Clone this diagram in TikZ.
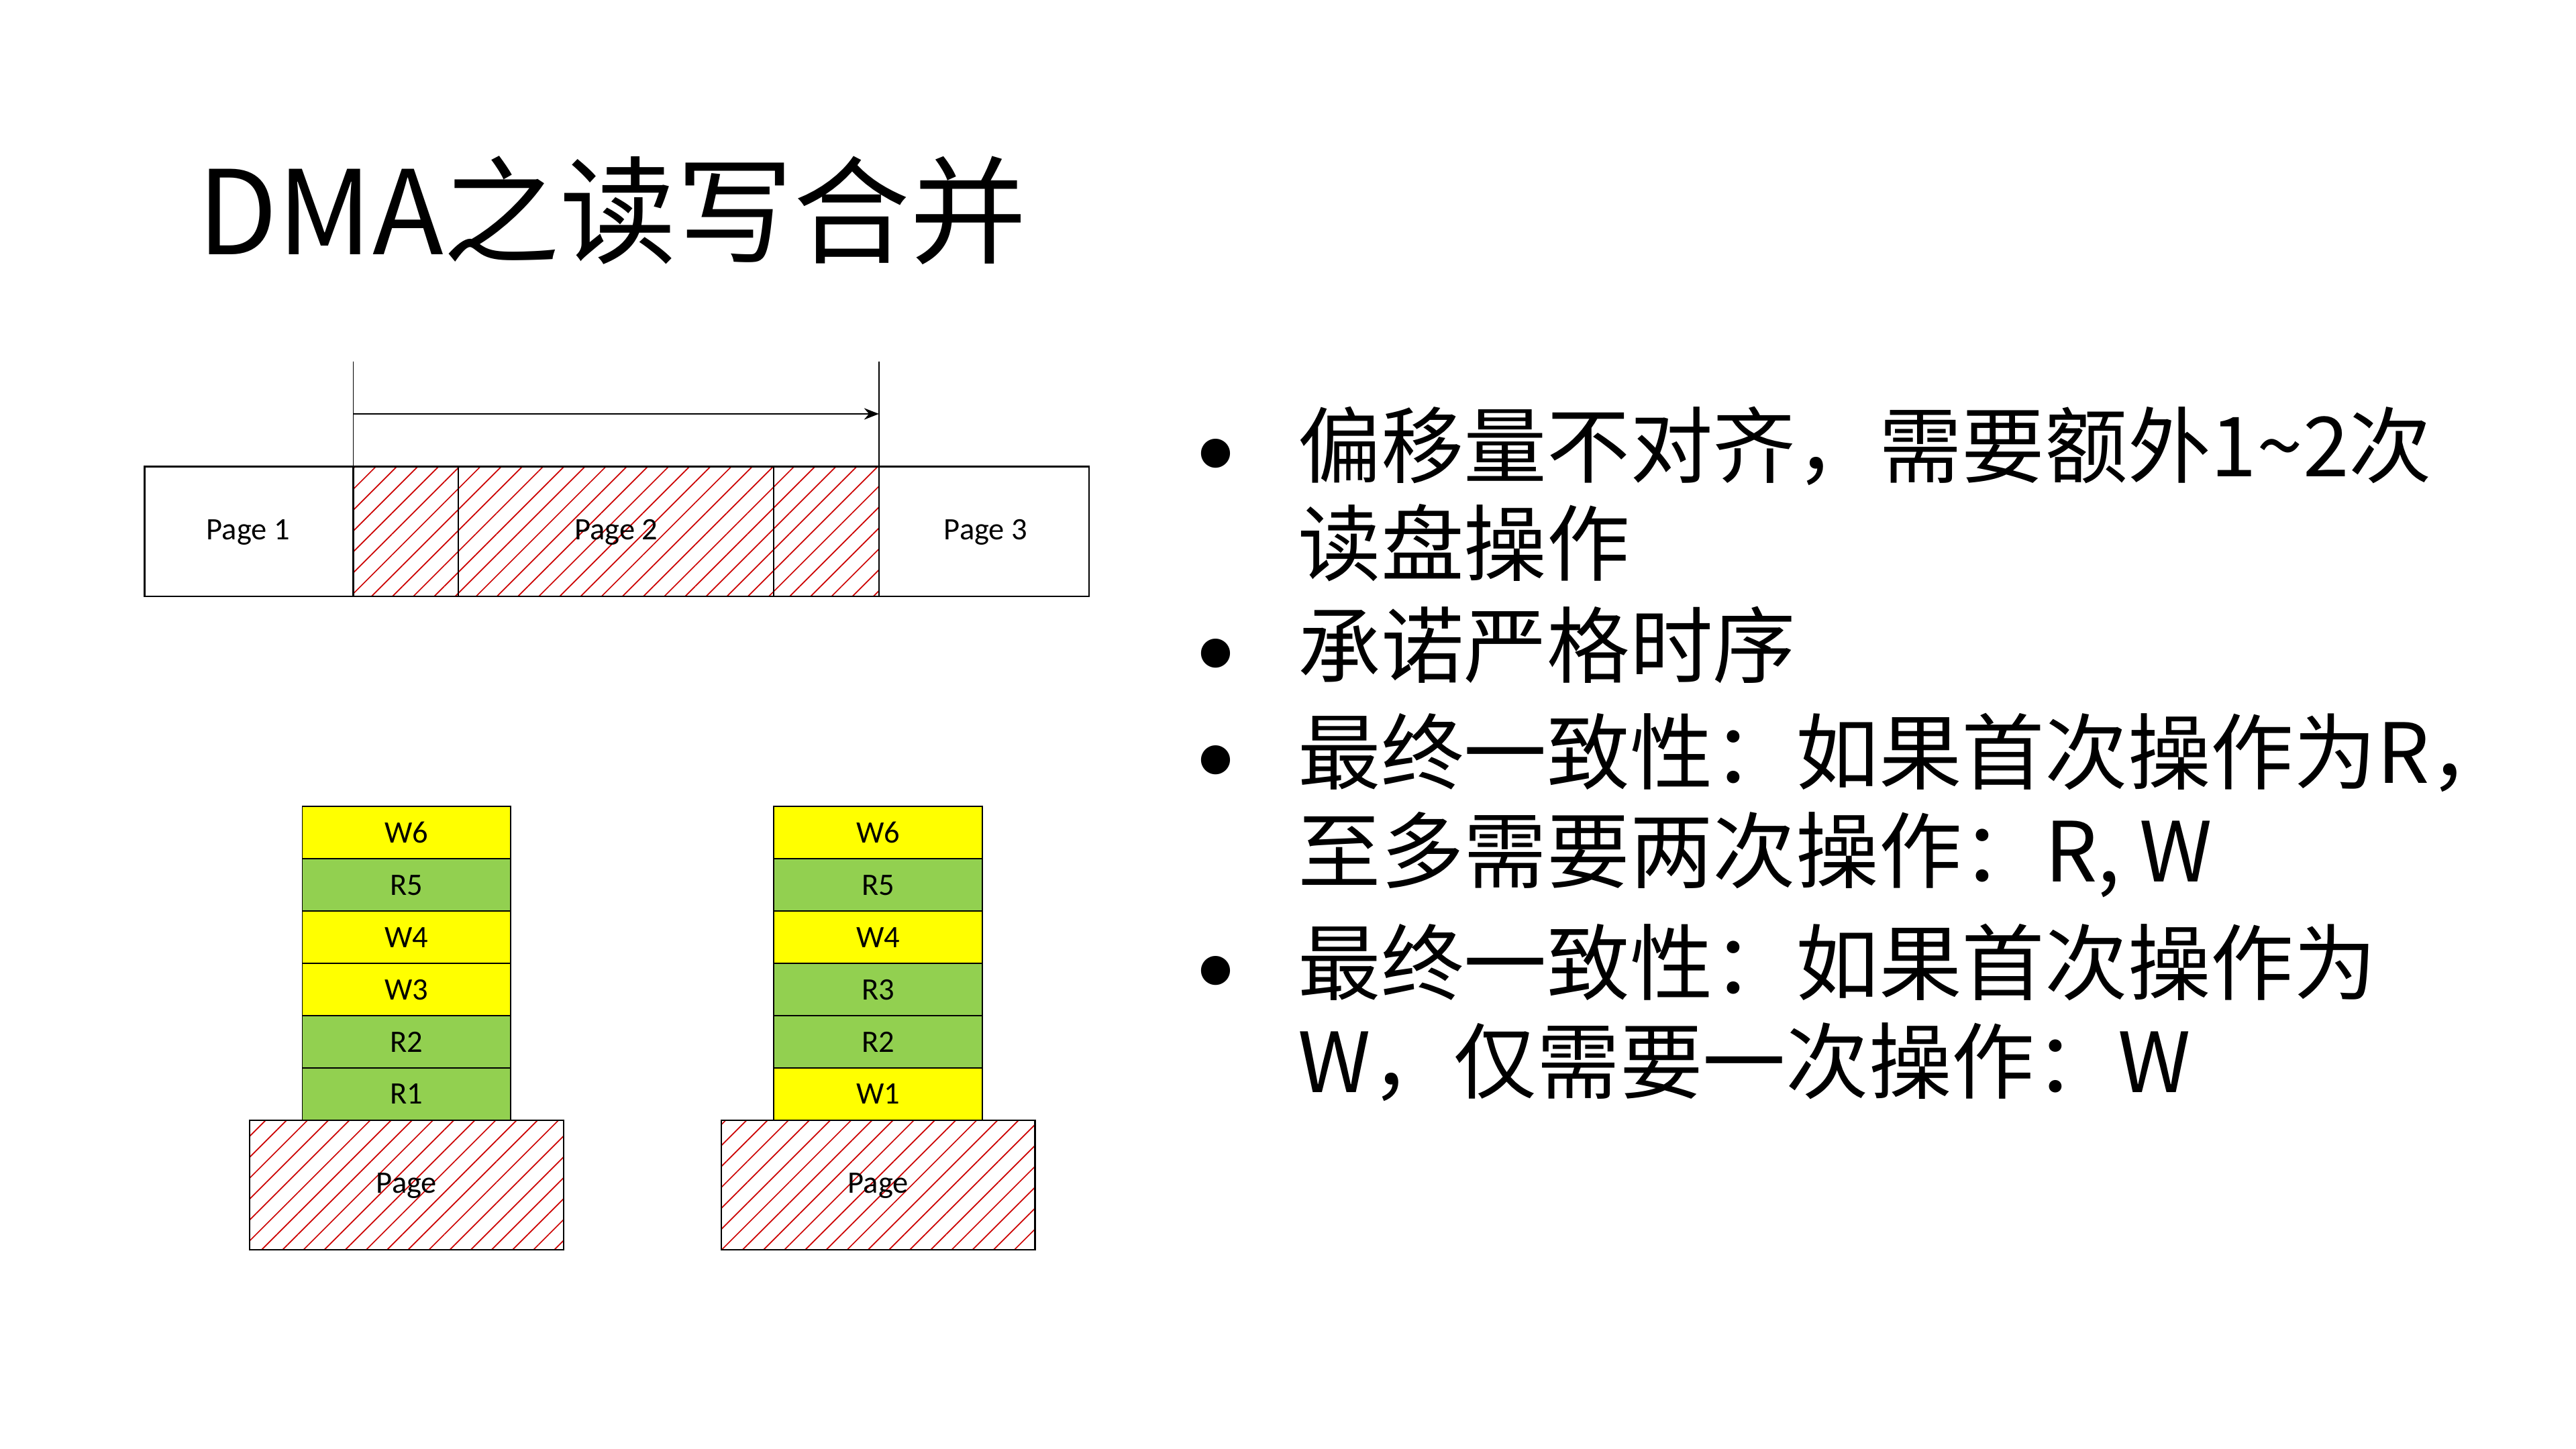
\documentclass[tikz,border=0pt]{standalone}
\usepackage{fontspec}
\setmainfont{Carlito}
\newfontfamily\cjk{Noto Sans CJK SC}
\usetikzlibrary{patterns.meta,arrows.meta}
\definecolor{cgreen}{HTML}{92D050}
\definecolor{cyellow}{HTML}{FFFF00}
\begin{document}
\begin{tikzpicture}[x=1pt,y=-1pt,
  hatch/.style={draw=black,pattern={Lines[angle=45,distance=9pt,line width=0.7pt]},pattern color=red!80!black},
  cell/.style={draw=black,line width=0.8pt},
  lbl/.style={font=\fontsize{19}{21}\selectfont},
  btxt/.style={anchor=base west,font=\cjk\fontsize{50.5}{54}\selectfont,inner sep=0},
  bul/.style={anchor=base,font=\fontsize{50}{54}\selectfont,inner sep=0}]
\useasboundingbox (0,0) rectangle (1568,882);
\node[anchor=base west,inner sep=0,font=\cjk\fontsize{71}{76}\selectfont] (title) at (120,155) {DMA之读写合并};
% top page row
\coordinate (a1) at (215,220); \coordinate (a2) at (535,220);
\coordinate (b1) at (215,284); \coordinate (b2) at (535,284);
\draw[line width=0.6pt] (a1) -- (b1); \draw[line width=0.6pt] (a2) -- (b2);
\coordinate (c1) at (215,252); \coordinate (c2) at (535,252);
\draw[line width=1pt,-{Stealth[length=9pt,width=7pt]}] (c1) -- (c2);
\fill[pattern={Lines[angle=45,distance=9pt,line width=0.7pt]},pattern color=red!80!black] (215,284) rectangle (535,363);
\draw[line width=1pt] (88,284) rectangle (663,363);
\foreach \x in {215,279,471,535} \draw[line width=1pt] (\x,284) -- (\x,363);
\node[lbl] (p1) at (151,324) {Page 1};
\node[lbl] (p2) at (375,324) {Page 2};
\node[lbl] (p3) at (600,324) {Page 3};
% stacks
\foreach \ox/\labs in {0/{W6/cyellow,R5/cgreen,W4/cyellow,W3/cyellow,R2/cgreen,R1/cgreen},287/{W6/cyellow,R5/cgreen,W4/cyellow,R3/cgreen,R2/cgreen,W1/cyellow}}{
  \foreach \t/\c [count=\i from 0] in \labs {
    \path[cell,fill=\c] (184+\ox,491+\i*31.83) rectangle (311+\ox,491+\i*31.83+31.83);
    \node[lbl] at (247.5+\ox,507+\i*31.83) {\t};
  }
  \path[hatch,line width=1pt] (152+\ox,682) rectangle (343+\ox,761);
  \node[lbl] at (247.5+\ox,722) {Page};
}
% bullets
\foreach \yy in {290,412,477,605} \node[bul] at (740,\yy) {•};
\node[btxt] (l1) at (790,290) {偏移量不对齐，需要额外1\textasciitilde 2次};
\node[btxt] (l2) at (790,350) {读盘操作};
\node[btxt] (l3) at (790,412) {承诺严格时序};
\node[btxt] (l4) at (790,477) {最终一致性：如果首次操作为R，};
\node[btxt] (l5) at (790,537) {至多需要两次操作：R, W};
\node[btxt] (l6) at (790,605) {最终一致性：如果首次操作为};
\node[btxt] (l7) at (790,665) {W，仅需要一次操作：W};
\end{tikzpicture}
\end{document}
